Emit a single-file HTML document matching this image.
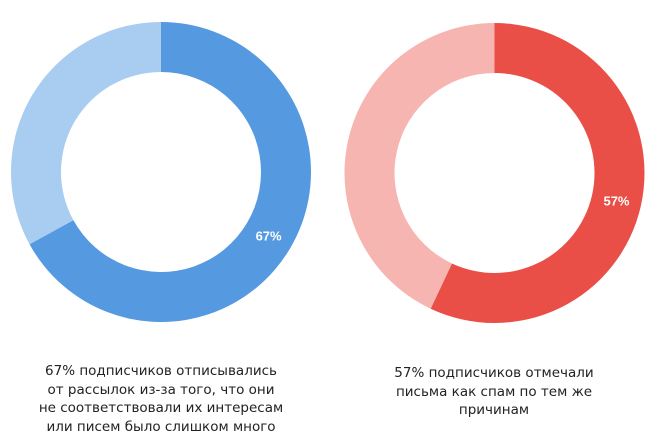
<!DOCTYPE html>
<html><head><meta charset="utf-8"><style>
html,body{margin:0;padding:0;background:#fff;width:657px;height:448px;overflow:hidden}
.cap{position:absolute;font-family:"DejaVu Sans","Liberation Sans",sans-serif;font-size:13.5px;line-height:18.5px;color:#222;text-align:center;width:320px}
</style></head><body>
<svg id="chart" width="657" height="448" style="position:absolute;left:0;top:0"></svg>
<div class="cap" style="left:1px;top:362px">67% подписчиков отписывались<br>от рассылок из-за того, что они<br>не соответствовали их интересам<br>или писем было слишком много</div>
<div class="cap" style="left:334px;top:364px">57% подписчиков отмечали<br>письма как спам по тем же<br>причинам</div>
<script>
const categories = ["unsubscribed", "marked-spam"];
const values = [67, 57];
const labels = ["67%", "57%"];
const ns = "http://www.w3.org/2000/svg";
const svg = document.getElementById("chart");
const centers = [[161,172],[494.5,173]];
const R = 150, r = 100;
const colors = [["#5599e0","#a9ccf1"],["#ea4f47","#f6b5b0"]];
function pt(cx,cy,rad,frac){const a=frac*2*Math.PI-Math.PI/2;return [cx+rad*Math.cos(a),cy+rad*Math.sin(a)];}
function arc(cx,cy,f0,f1){
  const large=(f1-f0)>0.5?1:0;
  const p0=pt(cx,cy,R,f0),p1=pt(cx,cy,R,f1),q1=pt(cx,cy,r,f1),q0=pt(cx,cy,r,f0);
  return `M${p0[0]},${p0[1]}A${R},${R} 0 ${large} 1 ${p1[0]},${p1[1]}L${q1[0]},${q1[1]}A${r},${r} 0 ${large} 0 ${q0[0]},${q0[1]}Z`;
}
values.forEach((v,i)=>{
  const [cx,cy]=centers[i];const f=v/100;
  const a=document.createElementNS(ns,"path");
  a.setAttribute("d",arc(cx,cy,0,f));a.setAttribute("fill",colors[i][0]);
  
  
  svg.appendChild(a);
  const b=document.createElementNS(ns,"path");
  b.setAttribute("d",arc(cx,cy,f,1));b.setAttribute("fill",colors[i][1]);
  
  
  svg.appendChild(b);
  const lp=pt(cx,cy,(R+r)/2,f/2);
  const t=document.createElementNS(ns,"text");
  t.setAttribute("x",lp[0]);t.setAttribute("y",lp[1]+5);
  t.setAttribute("text-anchor","middle");t.setAttribute("fill","#fff");
  t.setAttribute("font-family","Liberation Sans, sans-serif");t.setAttribute("font-weight","bold");t.setAttribute("font-size","13");
  t.textContent=labels[i];
  
  
  svg.appendChild(t);
});
</script>
</body></html>
